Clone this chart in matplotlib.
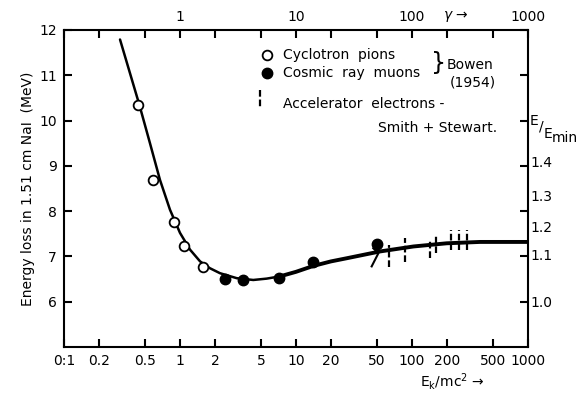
import numpy as np
import matplotlib
matplotlib.use("Agg")
import matplotlib.pyplot as plt

# cyclotron pions (open) and cosmic ray muons (filled), Bowen 1954
pion_x = [0.432, 0.582, 0.888, 1.09, 1.59]
pion_y = [10.35, 8.68, 7.77, 7.24, 6.76]
muon_x = [2.44, 3.51, 7.18, 13.9, 50.2]
muon_y = [6.51, 6.47, 6.52, 6.87, 7.27]

# accelerator electrons (Smith + Stewart), vertical bars
elec_x = [63.7, 87.1, 143, 161, 217, 256, 296]
elec_lo = [6.77, 6.88, 6.97, 7.08, 7.15, 7.15, 7.15]
elec_hi = [7.26, 7.41, 7.37, 7.48, 7.59, 7.59, 7.59]
chev_x = [46.4, 51.3, 44.9]
chev_y = [7.18, 7.07, 6.78]

# theory curve
curve_x = [0.304, 0.446, 0.551, 0.672, 0.82, 1.0, 1.22, 1.49, 1.81, 2.21, 3.08, 4.28, 5.59, 7.28,
           10, 14.1, 20, 27.4, 53, 103, 199, 385, 1000]
curve_y = [11.79, 10.35, 9.50, 8.69, 8.03, 7.52, 7.15, 6.89, 6.74, 6.63, 6.52, 6.48, 6.51, 6.56,
           6.66, 6.79, 6.89, 6.96, 7.11, 7.22, 7.29, 7.32, 7.32]

xticks = [0.1, 0.2, 0.5, 1, 2, 5, 10, 20, 50, 100, 200, 500, 1000]
xlabels = ["0:1", "0.2", "0.5", "1", "2", "5", "10", "20", "50", "100", "200", "500", "1000"]
top_ticks = [1, 10, 100, 1000]
top_labels = ["1", "10", "100", "1000"]
yticks = [6, 7, 8, 9, 10, 11, 12]
ratio_labels = ["1.0", "1.1", "1.2", "1.3", "1.4"]
ratio_pos = [5.98, 7.01, 7.63, 8.32, 9.07]

W, H = 588, 394
fig = plt.figure(figsize=(W / 100, H / 100), dpi=100)
ax = fig.add_axes([64 / W, 1 - 347 / H, 464 / W, 317 / H])

def fx(px):
    return px / W

def fy(py):
    return 1 - py / H

ax.set_xscale("log")
ax.set_xlim(0.1, 1000)
ax.set_ylim(5, 12)

n = curve_x.index(7.28) + 1
ax.plot(curve_x[:n], curve_y[:n], color="black", lw=1.8, solid_capstyle="round", solid_joinstyle="round")
ax.plot(curve_x[n - 1:], curve_y[n - 1:], color="black", lw=2.8, solid_capstyle="round", solid_joinstyle="round")

ax.plot(pion_x, pion_y, "o", ms=7, mfc="white", mec="black", mew=1.3)
ax.plot(muon_x, muon_y, "o", ms=7.5, color="black")
ax.vlines(elec_x, elec_lo, elec_hi, color="black", lw=1.6, linestyles=(0, (3, 1.3)))
ax.plot(chev_x, chev_y, color="black", lw=1.5)

ax.set_xticks(xticks)
ax.set_xticklabels(xlabels)
ax.minorticks_off()
ax.set_yticks(yticks)
ax.tick_params(direction="in", length=6, width=1.5, top=True, right=True, labelsize=10, pad=5)
for s in ax.spines.values():
    s.set_linewidth(1.5)

ax.set_ylabel("Energy loss in 1.51 cm NaI  (MeV)", fontsize=10, labelpad=3)

# top gamma scale labels
for t, lab in zip(top_ticks, top_labels):
    ax.text(t, 1.018, lab, transform=ax.get_xaxis_transform(), ha="center", va="bottom", fontsize=10)
ax.text(239, 1.018, r"$\gamma$ →", transform=ax.get_xaxis_transform(), ha="center", va="bottom", fontsize=10)

# right E/Emin scale
for p, lab in zip(ratio_pos, ratio_labels):
    ax.text(1.006, p, lab, transform=ax.get_yaxis_transform(), ha="left", va="center", fontsize=10)
fig.text(fx(530), fy(121), "E", ha="left", va="center", fontsize=10)
fig.text(fx(539), fy(127), "/", ha="left", va="center", fontsize=10)
fig.text(fx(544), fy(134), "E", ha="left", va="center", fontsize=10)
fig.text(fx(552), fy(138), "min", ha="left", va="center", fontsize=10)

fig.text(fx(452), fy(382), r"E$_\mathregular{k}$/mc$^\mathregular{2}$ →", ha="center", va="center", fontsize=10)

# legend drawn by hand
fig.lines.append(plt.Line2D([fx(267)], [fy(55)], marker="o", ms=7, mfc="white", mec="black", mew=1.3,
                            transform=fig.transFigure))
fig.lines.append(plt.Line2D([fx(267)], [fy(73)], marker="o", ms=7.5, color="black",
                            transform=fig.transFigure))
fig.lines.append(plt.Line2D([fx(260), fx(260)], [fy(90), fy(108)], color="black", lw=1.6,
                            linestyle=(0, (3, 1.3)), transform=fig.transFigure))
fig.text(fx(283), fy(55), "Cyclotron  pions", ha="left", va="center", fontsize=10)
fig.text(fx(283), fy(73), "Cosmic  ray  muons", ha="left", va="center", fontsize=10)
fig.text(fx(431), fy(63), "}", ha="left", va="center", fontsize=17)
fig.text(fx(447), fy(65), "Bowen", ha="left", va="center", fontsize=10)
fig.text(fx(450), fy(82), "(1954)", ha="left", va="center", fontsize=10)
fig.text(fx(283), fy(104), "Accelerator  electrons -", ha="left", va="center", fontsize=10)
fig.text(fx(497), fy(128), "Smith + Stewart.", ha="right", va="center", fontsize=10)

fig.savefig("out.png", dpi=100)
